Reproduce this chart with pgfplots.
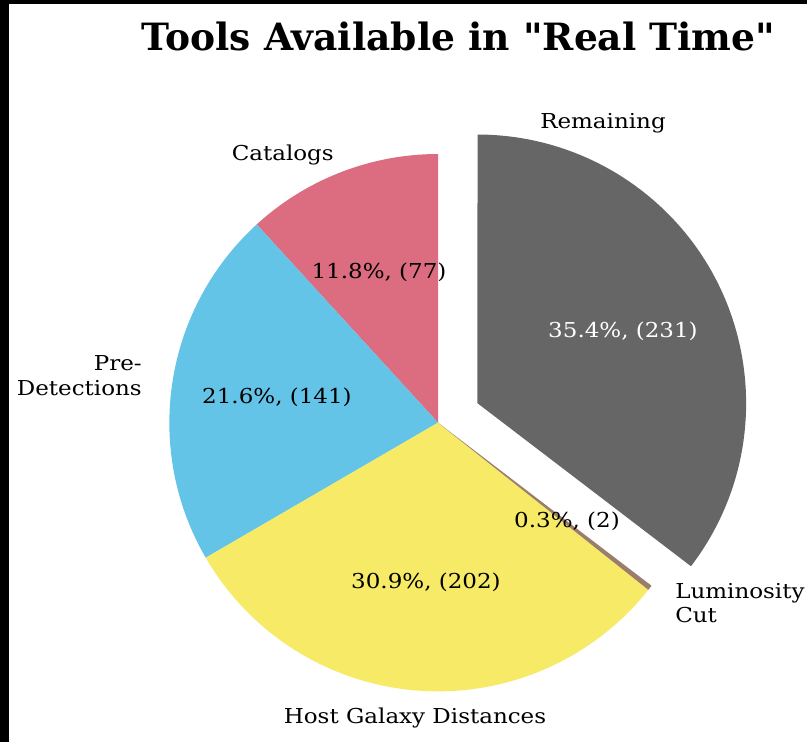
\documentclass[border=0pt]{standalone}
\usepackage{pgfplots}
\pgfplotsset{compat=1.18}
\usepackage{pgfplotstable}
\usepackage{fontspec}
\setmainfont{DejaVu Serif}
\newfontfamily\titlefont[Ligatures=TeXOff]{DejaVu Serif}
\newfontfamily\lblfont[FakeStretch=1.12]{DejaVu Serif}
\definecolor{cCat}{HTML}{DC6C80}
\definecolor{cPre}{HTML}{64C4E8}
\definecolor{cHost}{HTML}{F6EA66}
\definecolor{cLum}{HTML}{9A7D6A}
\definecolor{cRem}{HTML}{666666}
\pgfplotstableread{
label value
Catalogs 77
PreDetections 141
HostGalaxyDistances 202
LuminosityCut 2
Remaining 231
}\piedata
\pgfplotstablegetelem{0}{value}\of\piedata\edef\vA{\pgfplotsretval}
\pgfplotstablegetelem{1}{value}\of\piedata\edef\vB{\pgfplotsretval}
\pgfplotstablegetelem{2}{value}\of\piedata\edef\vC{\pgfplotsretval}
\pgfplotstablegetelem{3}{value}\of\piedata\edef\vD{\pgfplotsretval}
\pgfplotstablegetelem{4}{value}\of\piedata\edef\vE{\pgfplotsretval}
\pgfmathsetmacro\tot{\vA+\vB+\vC+\vD+\vE}
\pgfmathsetmacro\aA{90+360*(\vA/\tot)}
\pgfmathsetmacro\aB{\aA+360*(\vB/\tot)}
\pgfmathsetmacro\aC{\aB+360*(\vC/\tot)}
\pgfmathsetmacro\aD{\aC+360*(\vD/\tot)}
\pgfmathsetmacro\aE{\aD+360*(\vE/\tot)}
\pgfmathsetmacro\mE{(\aD+\aE)/2}
\def\R{201.5pt}
\def\lbl{\lblfont\fontsize{15.4}{18.5}\selectfont}
\begin{document}%
\begin{tikzpicture}
\begin{axis}[scale only axis, width=605.25pt, height=556.5pt,
  xmin=0, xmax=807, ymin=0, ymax=742, hide axis, clip=false]
\fill[black] (axis cs:0,0) rectangle (axis cs:807,742);
\fill[white] (axis cs:9,0) rectangle (axis cs:807,738);
\fill[cCat]  (axis cs:438,319.3) -- ++(90:\R) arc[start angle=90, end angle=\aA, radius=\R] -- cycle;
\fill[cPre]  (axis cs:438,319.3) -- ++(\aA:\R) arc[start angle=\aA, end angle=\aB, radius=\R] -- cycle;
\fill[cHost] (axis cs:438,319.3) -- ++(\aB:\R) arc[start angle=\aB, end angle=\aC, radius=\R] -- cycle;
\fill[cLum]  (axis cs:438,319.3) -- ++(\aC:\R) arc[start angle=\aC, end angle=\aD, radius=\R] -- cycle;
\fill[cRem]  (axis cs:438,319.3) ++(\mE:33pt) -- ++(\aD:\R) arc[start angle=\aD, end angle=\aE, radius=\R] -- cycle;
\node[font=\titlefont\bfseries\fontsize{28.2}{32}\selectfont] at (axis cs:458.5,706) {Tools Available in "Real Time"};
\node[font=\lbl] at (axis cs:603,619) {Remaining};
\node[font=\lbl, anchor=east, inner sep=0pt] at (axis cs:334,587) {Catalogs};
\node[font=\lbl, anchor=east, align=right, inner sep=0pt] at (axis cs:142,366) {Pre-\\Detections};
\node[font=\lbl] at (axis cs:415,24) {Host Galaxy Distances};
\node[font=\lbl, anchor=west, align=left, inner sep=0pt] at (axis cs:675,139) {Luminosity\\Cut};
\node[font=\lbl] at (axis cs:379,470) {11.8\%, (77)};
\node[font=\lbl] at (axis cs:277,345) {21.6\%, (141)};
\node[font=\lbl] at (axis cs:426,160) {30.9\%, (202)};
\node[font=\lbl] at (axis cs:567,221) {0.3\%, (2)};
\node[font=\lbl, text=white] at (axis cs:623,411) {35.4\%, (231)};
\end{axis}
\pgfresetboundingbox
\useasboundingbox (current axis.south west) rectangle (current axis.north east);
\end{tikzpicture}%
\end{document}
